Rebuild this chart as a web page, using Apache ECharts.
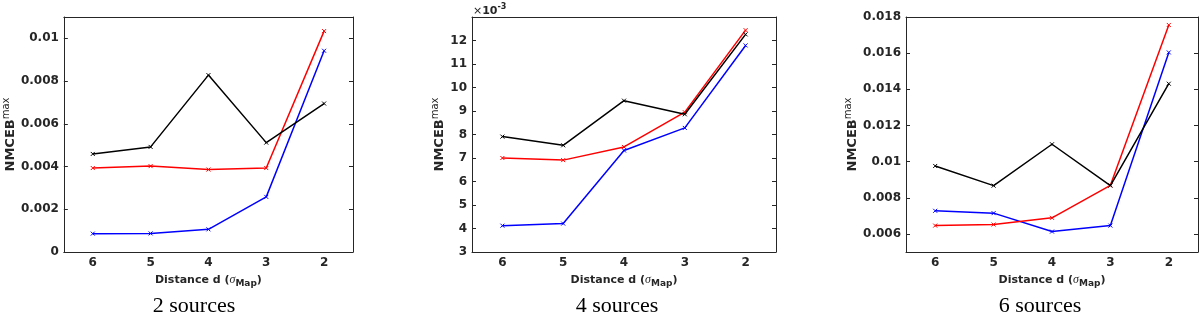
<!DOCTYPE html>
<html>
<head>
<meta charset="utf-8">
<script src="https://cdn.jsdelivr.net/npm/echarts@6/dist/echarts.min.js"></script>
<style>
html,body{margin:0;padding:0;background:#fff;}
#chart{width:1200px;height:318px;}
</style>
</head>
<body>
<div id="chart"></div>
<script>
// ---- data ----
const categories = ['6', '5', '4', '3', '2'];   // Distance d (sigma_Map)

// 2 sources
const p1Black = [0.00459, 0.00492, 0.00828, 0.00512, 0.00695];
const p1Red   = [0.00393, 0.00402, 0.00386, 0.00393, 0.01034];
const p1Blue  = [0.00086, 0.00087, 0.00106, 0.00258, 0.00942];
const p1Ticks = [0, 0.002, 0.004, 0.006, 0.008, 0.01];

// 4 sources (values in units of 1e-3)
const p2Black = [7.91, 7.54, 9.44, 8.86, 12.26];
const p2Red   = [7.00, 6.91, 7.47, 8.95, 12.44];
const p2Blue  = [4.12, 4.21, 7.32, 8.28, 11.79];
const p2Ticks = [3, 4, 5, 6, 7, 8, 9, 10, 11, 12];

// 6 sources
const p3Black = [0.00976, 0.00867, 0.01096, 0.00867, 0.01431];
const p3Red   = [0.00646, 0.00652, 0.00689, 0.00869, 0.01756];
const p3Blue  = [0.00728, 0.00715, 0.00613, 0.00646, 0.01604];
const p3Ticks = [0.006, 0.008, 0.01, 0.012, 0.014, 0.016, 0.018];

const captions = ['2 sources', '4 sources', '6 sources'];

// ---- layout / style ----
const AX = '#262626';
const FONT = 'DejaVu Sans';
const grids = [
  {left: 61, top: 17, width: 292, height: 235},
  {left: 472, top: 17, width: 304, height: 235},
  {left: 906, top: 17, width: 292, height: 235}
];
const yRanges = [[0, 0.011], [3, 13], [0.005, 0.018]];
const yTicks = [p1Ticks, p2Ticks, p3Ticks];
const yNameGaps = [39, 19, 39];
const captionX = [194, 617, 1040];
const panels = [
  [p1Black, p1Red, p1Blue],
  [p2Black, p2Red, p2Blue],
  [p3Black, p3Red, p3Blue]
];
const colors = ['#000000', '#ff0000', '#0000ff'];
const fmt = v => String(parseFloat((+v).toFixed(4)));

const xAxes = [], yAxes = [], series = [];
grids.forEach((g, i) => {
  xAxes.push({
    gridIndex: i, type: 'category', data: categories, boundaryGap: true, position: 'bottom',
    axisLine: {onZero: false, lineStyle: {color: AX, width: 1}},
    axisTick: {inside: true, length: 4, alignWithLabel: true, lineStyle: {color: AX}},
    axisLabel: {color: AX, fontFamily: FONT, fontWeight: 'bold', fontSize: 12, margin: 5},
    splitLine: {show: false},
    name: '{b|Distance d (}{s|σ}{sub|Map}{b|)}',
    nameLocation: 'middle', nameGap: 19,
    nameTextStyle: {
      color: AX,
      rich: {
        b: {fontFamily: FONT, fontWeight: 'bold', fontSize: 11, color: AX},
        s: {fontFamily: 'Liberation Serif', fontStyle: 'italic', fontSize: 12, color: AX},
        sub: {fontFamily: FONT, fontWeight: 'bold', fontSize: 9, color: AX, padding: [8, 0, 0, 0]}
      }
    }
  });
  xAxes.push({
    gridIndex: i, type: 'category', data: categories, boundaryGap: true, position: 'top',
    axisLine: {onZero: false, lineStyle: {color: AX, width: 1}},
    axisTick: {inside: true, length: 4, alignWithLabel: true, lineStyle: {color: AX}},
    axisLabel: {show: false}, splitLine: {show: false}
  });
  yAxes.push({
    gridIndex: i, type: 'value', min: yRanges[i][0], max: yRanges[i][1], position: 'left',
    axisLine: {show: true, onZero: false, lineStyle: {color: AX, width: 1}},
    axisTick: {show: true, inside: true, length: 4, lineStyle: {color: AX}, customValues: yTicks[i]},
    axisLabel: {color: AX, fontFamily: FONT, fontWeight: 'bold', fontSize: 12, margin: 5,
                customValues: yTicks[i], formatter: fmt},
    splitLine: {show: false},
    name: '{b|NMCEB}{sup|max}',
    nameLocation: 'middle', nameGap: yNameGaps[i],
    nameTextStyle: {
      color: AX,
      rich: {
        b: {fontFamily: FONT, fontWeight: 'bold', fontSize: 13, color: AX},
        sup: {fontFamily: FONT, fontSize: 10, color: AX, padding: [0, 0, 9, 0]}
      }
    }
  });
  yAxes.push({
    gridIndex: i, type: 'value', min: yRanges[i][0], max: yRanges[i][1], position: 'right',
    axisLine: {show: true, onZero: false, lineStyle: {color: AX, width: 1}},
    axisTick: {show: true, inside: true, length: 4, lineStyle: {color: AX}, customValues: yTicks[i]},
    axisLabel: {show: false}, splitLine: {show: false}
  });
  panels[i].forEach((arr, k) => {
    series.push({
      type: 'line', xAxisIndex: i * 2, yAxisIndex: i * 2, data: arr,
      lineStyle: {color: colors[k], width: 1.5},
      symbol: 'path://M0,0L10,10M10,0L0,10', symbolSize: 4,
      itemStyle: {color: colors[k], borderColor: colors[k], borderWidth: 1},
      showSymbol: true, animation: false, z: 3 - k
    });
  });
});

const graphic = captions.map((c, i) => ({
  type: 'text', x: captionX[i], y: 306,
  style: {text: c, fontFamily: 'Liberation Serif', fontSize: 22, fill: '#000',
          textAlign: 'center', textVerticalAlign: 'middle'}
}));
graphic.push({
  type: 'text', x: 473, y: 11,
  style: {text: '{a|×}{b|10}{c|-3}', textVerticalAlign: 'middle',
    rich: {
      a: {fontFamily: FONT, fontSize: 11, fill: AX},
      b: {fontFamily: FONT, fontWeight: 'bold', fontSize: 11, fill: AX},
      c: {fontFamily: FONT, fontWeight: 'bold', fontSize: 8, fill: AX, padding: [0, 0, 8, 0]}
    }}
});

const chart = echarts.init(document.getElementById('chart'), null, {renderer: 'canvas'});
chart.setOption({
  animation: false,
  grid: grids.map(g => Object.assign({containLabel: false}, g)),
  xAxis: xAxes, yAxis: yAxes, series: series, graphic: graphic
});
</script>
</body>
</html>
